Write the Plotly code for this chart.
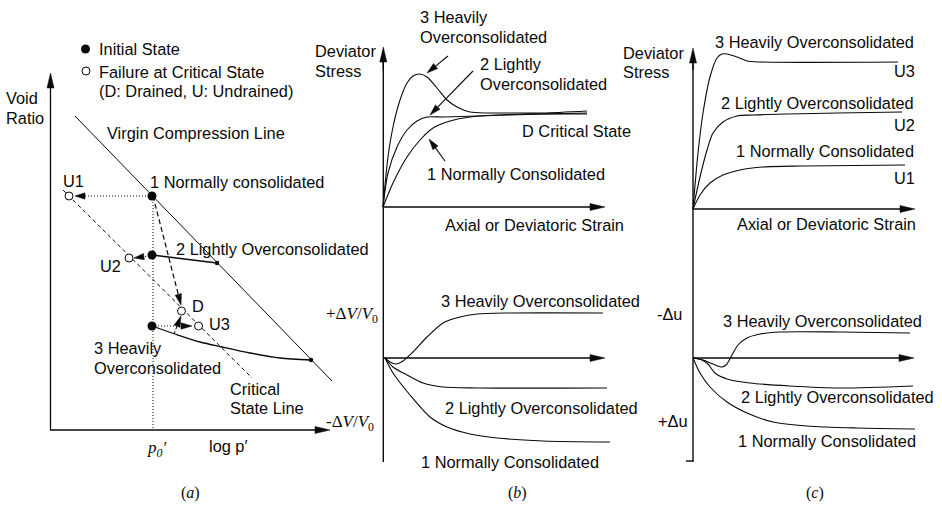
import math
import plotly.graph_objects as go

# Panel (a)
vcl_x = [75, 332]; vcl_y = [116, 381]
csl_x = [63, 252]; csl_y = [190, 378]
p0_x = [153, 153]; p0_y = [196, 430]
oc2_x = [152, 217]; oc2_y = [255, 263]
oc3_x = [152, 175, 200, 222, 250, 280, 311]; oc3_y = [326, 334, 342, 347, 353, 358, 360]
initial_x = [152, 152, 152]; initial_y = [196, 255, 326]
vcl_pts_x = [217, 311]; vcl_pts_y = [263, 360]
failure_x = [69, 129, 181.5, 198.5]; failure_y = [196, 258, 311, 326]

# Panel (b), top
b_q3_x = [383, 388, 393, 400, 407, 413, 420, 427, 437, 447, 457, 470, 487, 510, 543, 587]
b_q3_y = [207, 157, 127, 100, 83, 76, 74, 77, 88, 100, 107, 112, 113, 113, 113, 111]
b_q2_x = [383, 388, 397, 407, 417, 427, 443, 477, 510, 543, 587]
b_q2_y = [207, 173, 147, 130, 121, 117, 117, 116, 115, 114, 113]
b_q1_x = [383, 393, 407, 420, 433, 450, 470, 497, 527, 587]
b_q1_y = [207, 183, 157, 140, 128, 121, 117, 115, 114, 114]
# Panel (b), bottom
b_v3_x = [385, 390, 396, 403, 413, 427, 443, 460, 477, 510, 603]
b_v3_y = [358, 362, 364, 361, 352, 337, 323, 317, 314, 313, 313]
b_v2_x = [385, 393, 407, 423, 443, 477, 607]
b_v2_y = [358, 367, 375, 383, 387, 388, 388]
b_v1_x = [385, 393, 410, 430, 447, 470, 497, 543, 610]
b_v1_y = [358, 373, 395, 417, 427, 434, 438, 441, 442]
# Panel (c), top
c_q3_x = [693, 698, 703, 710, 717, 722, 727, 737, 747, 760, 898]
c_q3_y = [209, 153, 113, 77, 58, 54, 54, 57, 61, 62, 62]
c_q2_x = [693, 700, 707, 713, 723, 737, 753, 787, 837, 902]
c_q2_y = [209, 177, 150, 133, 122, 116, 115, 114, 113, 112]
c_q1_x = [693, 700, 710, 723, 740, 763, 803, 905]
c_q1_y = [209, 195, 183, 175, 170, 167, 166, 165]
# Panel (c), bottom
c_u3_x = [693, 703, 713, 722, 726, 732, 738, 747, 760, 780, 840, 910]
c_u3_y = [358, 360, 364, 367, 365, 355, 345, 338, 334, 332, 332, 333]
c_u2_x = [693, 702, 708, 715, 727, 750, 790, 840, 913]
c_u2_y = [358, 360, 364, 373, 379, 383, 386, 388, 386]
c_u1_x = [693, 700, 710, 727, 747, 773, 807, 857, 915]
c_u1_y = [358, 373, 387, 402, 413, 422, 426, 428, 429]

INK = "#0a0a0a"
SANS = "Liberation Sans"
SERIF = "Liberation Serif"
fig = go.Figure()


def line(x, y, width=1.1, dash="solid", shape="linear"):
    fig.add_trace(go.Scatter(x=x, y=y, mode="lines", hoverinfo="skip",
                             line=dict(color=INK, width=width, dash=dash, shape=shape, smoothing=0.8)))


def arrow(x0, y0, x1, y1, length=11, half=3.2, width=1.1, dash="solid"):
    d = math.hypot(x1 - x0, y1 - y0)
    ux, uy = (x1 - x0) / d, (y1 - y0) / d
    bx, by = x1 - ux * length, y1 - uy * length
    line([x0, bx], [y0, by], width, dash)
    fig.add_trace(go.Scatter(x=[x1, bx - uy * half, bx + uy * half, x1],
                             y=[y1, by + ux * half, by - ux * half, y1],
                             mode="lines", fill="toself", fillcolor=INK, hoverinfo="skip",
                             line=dict(color=INK, width=0.5)))


def text(x, y, s, family=SANS, size=16.35, anchor="left"):
    fig.add_annotation(x=x, y=y, text=s, showarrow=False, xanchor=anchor, yanchor="middle",
                       font=dict(family=family, size=size, color=INK), xref="x", yref="y",
                       borderpad=0, borderwidth=0)


# Panel (a) lines
line(vcl_x, vcl_y, 1.0)
line(csl_x, csl_y, 1.0, "4px,3px")
line(p0_x, p0_y, 1.0, "1px,2px")
line(oc2_x, oc2_y, 1.3)
line(oc3_x, oc3_y, 1.3, shape="spline")
arrow(50.5, 430, 50.5, 73, 15, 3.5, 1.3)
arrow(50, 430, 330, 430, 15, 3.5, 1.3)
arrow(152, 196, 75, 196, 10, 3.2, 1.0, "1px,2px")
arrow(152, 255.5, 134, 258, 10, 3.2, 1.0, "1px,2px")
arrow(153, 196, 181, 305, 11, 3.2, 1.2, "5px,3px")
arrow(152, 326, 192, 326, 11, 3.2, 1.0, "1px,2px")
arrow(174, 334, 181, 316, 11, 3.2, 1.0, "3px,2px")
fig.add_trace(go.Scatter(x=initial_x, y=initial_y, mode="markers", hoverinfo="skip",
                         marker=dict(color=INK, size=9)))
fig.add_trace(go.Scatter(x=vcl_pts_x, y=vcl_pts_y, mode="markers", hoverinfo="skip",
                         marker=dict(color=INK, size=4.5)))
fig.add_trace(go.Scatter(x=failure_x, y=failure_y, mode="markers", hoverinfo="skip",
                         marker=dict(color="white", size=8, line=dict(color=INK, width=1))))
fig.add_trace(go.Scatter(x=[85.5], y=[49], mode="markers", hoverinfo="skip",
                         marker=dict(color=INK, size=9)))
fig.add_trace(go.Scatter(x=[86], y=[71], mode="markers", hoverinfo="skip",
                         marker=dict(color="white", size=8, line=dict(color=INK, width=1))))

# Panel (b) lines
line([383.3, 383.3], [60, 462], 1.4)
arrow(383.3, 207, 605, 207, 15, 3.5, 1.3)
arrow(383.3, 358, 605, 358, 15, 3.5, 1.3)
arrow(383.3, 70, 383.3, 47, 15, 3.5, 1.3)
for xs, ys in [(b_q3_x, b_q3_y), (b_q2_x, b_q2_y), (b_q1_x, b_q1_y),
               (b_v3_x, b_v3_y), (b_v2_x, b_v2_y), (b_v1_x, b_v1_y)]:
    line(xs, ys, 1.1, shape="spline")
arrow(448, 56, 427, 73, 11, 3.2)
arrow(473, 71, 430, 115, 11, 3.2)
arrow(445, 161, 429, 139, 11, 3.2)

# Panel (c) lines
line([693, 693], [60, 462], 1.4)
line([686, 693], [461, 461], 1.4)
arrow(693, 209, 915, 209, 15, 3.5, 1.6)
arrow(693, 358, 914, 358, 15, 3.5, 1.3)
arrow(693, 70, 693, 48, 15, 3.5, 1.3)
for xs, ys in [(c_q3_x, c_q3_y), (c_q2_x, c_q2_y), (c_q1_x, c_q1_y),
               (c_u3_x, c_u3_y), (c_u2_x, c_u2_y), (c_u1_x, c_u1_y)]:
    line(xs, ys, 1.1, shape="spline")

# Panel (a) text
text(99, 48.5, "Initial State")
text(99, 72, "Failure at Critical State")
text(99, 91, "(D: Drained, U: Undrained)")
text(6, 98, "Void"); text(6, 118, "Ratio")
text(107, 133, "Virgin Compression Line")
text(63, 181, "U1")
text(150, 182, "1 Normally consolidated")
text(176, 249, "2 Lightly Overconsolidated")
text(100, 266, "U2"); text(192, 306, "D"); text(209, 324, "U3")
text(94, 348, "3 Heavily"); text(94, 368, "Overconsolidated")
text(230, 389, "Critical"); text(230, 408, "State Line")
text(209, 446, "log p′")
text(147, 449, "<i>p<sub>0</sub>′</i>", SERIF, 17)
text(190, 493, "(<i>a</i>)", SERIF, 16, "center")

# Panel (b) text
text(315, 51, "Deviator"); text(315, 71, "Stress")
text(420, 17, "3 Heavily"); text(420, 37, "Overconsolidated")
text(480, 64, "2 Lightly"); text(480, 84, "Overconsolidated")
text(522, 131, "D Critical State")
text(427, 174, "1 Normally Consolidated")
text(445, 225, "Axial or Deviatoric Strain")
text(326, 315, "+Δ<i>V</i>/<i>V</i><sub>0</sub>", SERIF, 17)
text(326, 423, "-Δ<i>V</i>/<i>V</i><sub>0</sub>", SERIF, 17)
text(441, 301, "3 Heavily Overconsolidated")
text(445, 408, "2 Lightly Overconsolidated")
text(421, 462, "1 Normally Consolidated")
text(517, 493, "(<i>b</i>)", SERIF, 16, "center")

# Panel (c) text
text(623, 53, "Deviator"); text(623, 72, "Stress")
text(715, 42, "3 Heavily Overconsolidated"); text(894, 71, "U3")
text(721, 103, "2 Lightly Overconsolidated"); text(894, 125, "U2")
text(736, 151, "1 Normally Consolidated"); text(894, 178, "U1")
text(737, 224, "Axial or Deviatoric Strain")
text(657, 314, "-Δu"); text(658, 421, "+Δu")
text(723, 321, "3 Heavily Overconsolidated")
text(741, 397, "2 Lightly Overconsolidated")
text(738, 441, "1 Normally Consolidated")
text(815, 493, "(<i>c</i>)", SERIF, 16, "center")

fig.update_layout(width=942, height=513, margin=dict(l=0, r=0, t=0, b=0),
                  paper_bgcolor="white", plot_bgcolor="white", showlegend=False,
                  xaxis=dict(range=[0, 942], visible=False, fixedrange=True),
                  yaxis=dict(range=[513, 0], visible=False, fixedrange=True))
fig.write_html("out.html", config={"displayModeBar": False},
               post_script="document.body.style.margin='0';document.documentElement.style.overflow='hidden';")
